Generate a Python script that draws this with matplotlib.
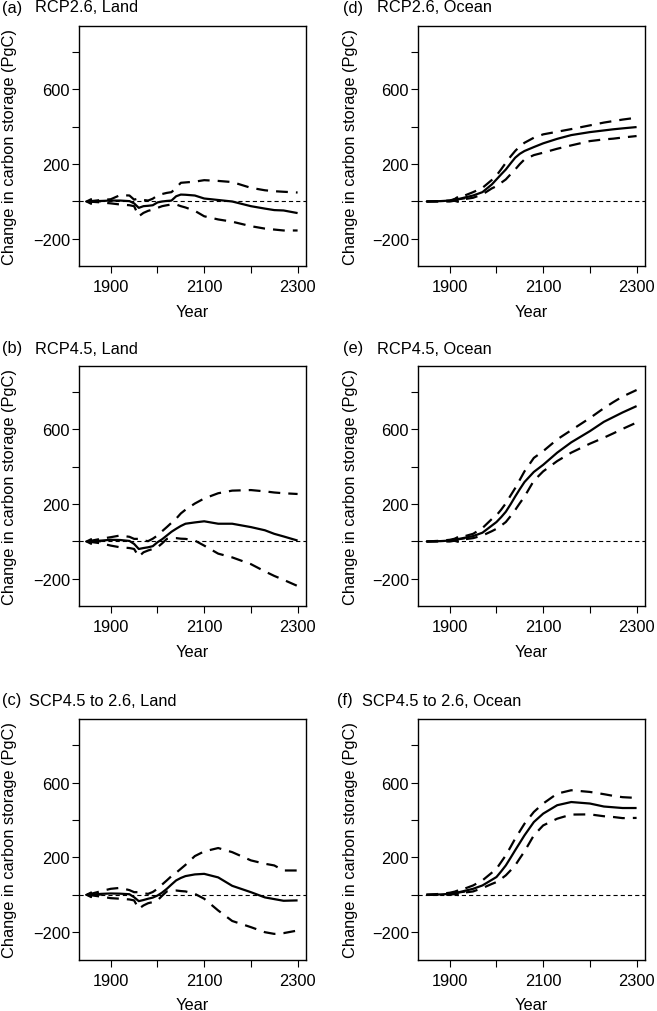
import matplotlib
matplotlib.use("Agg")
import matplotlib.pyplot as plt

plt.rcParams['font.family'] = ['Liberation Sans', 'DejaVu Sans']
plt.rcParams['lines.scale_dashes'] = False

# ---------------- data ----------------
land_years = [1850, 1880, 1900, 1920, 1940, 1950, 1960, 1970, 1980, 1990, 2000, 2010,
              2020, 2030, 2040, 2050, 2060, 2080, 2100, 2130, 2160, 2200, 2230, 2250, 2270, 2300]
ocean_years = [1850, 1880, 1900, 1920, 1950, 1970, 1990, 2000, 2010, 2020, 2030, 2040,
               2050, 2060, 2080, 2100, 2130, 2160, 2200, 2230, 2250, 2270, 2300]

a_mid = [0, 3, 5, 5, 2, -10, -34, -25, -23, -20, -5, 0, 3, 5, 28, 37, 36, 32, 16, 8, 0, -25, -38, -46, -48, -62]
a_up = [0, 8, 12, 34, 32, 10, 16, 8, 5, 15, 32, 40, 46, 50, 73, 100, 102, 106, 114, 110, 104, 73, 60, 55, 52, 48]
a_lo = [0, -5, -10, -16, -20, -25, -79, -61, -50, -43, -34, -25, -20, -16, -16, -25, -32, -50, -79, -96, -108, -132, -145, -150, -155, -155]

b_mid = [0, 5, 9, 8, 3, -13, -40, -35, -31, -25, -4, 12, 32, 52, 68, 83, 95, 102, 108, 95, 95, 77, 60, 41, 27, 5]
b_up = [0, 15, 23, 32, 25, 14, 14, 5, 2, 15, 32, 55, 77, 100, 122, 150, 170, 203, 230, 258, 272, 275, 268, 262, 258, 254]
b_lo = [0, -10, -22, -31, -35, -40, -81, -58, -48, -40, -31, -10, 14, 18, 18, 15, 14, 5, -22, -65, -85, -121, -160, -184, -205, -238]

c_mid = [0, 5, 7, 6, 3, -13, -34, -28, -21, -15, -4, 12, 32, 55, 77, 90, 100, 109, 112, 93, 48, 14, -14, -23, -32, -30]
c_up = [0, 20, 32, 37, 25, 14, 14, 8, 5, 15, 32, 55, 77, 100, 118, 139, 160, 207, 232, 250, 228, 184, 166, 157, 130, 130]
c_lo = [0, -10, -18, -21, -25, -30, -75, -57, -45, -39, -30, -5, 18, 22, 23, 20, 18, 5, -21, -84, -140, -173, -200, -209, -205, -191]

d_mid = [0, 2, 5, 14, 32, 50, 91, 118, 145, 171, 203, 234, 255, 270, 291, 311, 335, 355, 371, 380, 386, 391, 398]
d_up = [0, 2, 5, 20, 50, 73, 115, 139, 172, 207, 240, 270, 295, 314, 341, 359, 373, 387, 407, 422, 430, 438, 448]
d_lo = [0, 0, 0, 8, 20, 38, 70, 82, 100, 118, 145, 171, 200, 225, 248, 261, 282, 300, 323, 332, 336, 342, 350]

e_mid = [0, 2, 5, 14, 29, 47, 85, 104, 130, 159, 198, 240, 280, 318, 372, 410, 475, 530, 590, 640, 665, 690, 724]
e_up = [0, 4, 9, 20, 41, 72, 120, 140, 170, 204, 245, 285, 330, 375, 447, 483, 546, 595, 660, 713, 745, 775, 810]
e_lo = [0, 0, 0, 8, 18, 32, 55, 68, 85, 104, 135, 168, 205, 240, 325, 375, 430, 475, 523, 555, 578, 602, 636]

f_mid = [0, 2, 5, 14, 32, 50, 80, 95, 125, 157, 197, 238, 278, 318, 389, 434, 479, 496, 488, 472, 468, 464, 464]
f_up = [0, 5, 11, 22, 50, 77, 118, 139, 175, 211, 255, 300, 340, 380, 443, 488, 541, 559, 550, 538, 529, 522, 518]
f_lo = [0, 0, 0, 8, 18, 36, 58, 68, 85, 104, 130, 157, 195, 232, 318, 371, 407, 429, 430, 420, 416, 410, 411]

panel_letters = ['(a)', '(b)', '(c)', '(d)', '(e)', '(f)']
panel_titles = ['RCP2.6, Land', 'RCP4.5, Land', 'SCP4.5 to 2.6, Land',
                'RCP2.6, Ocean', 'RCP4.5, Ocean', 'SCP4.5 to 2.6, Ocean']
xticks = [1900, 2000, 2100, 2200, 2300]
xtick_labels = ['1900', '', '2100', '', '2300']
yticks = [-200, 0, 200, 400, 600, 800]
ytick_labels = ['\u2212200', '', '200', '', '600', '']
# arrow (tail year, tail value, head year, head value)
land_arrow = (1878, 0, 1843, 0)
ocean_arrow = (1932, 16, 1902, 5)

series = [
    (land_years, a_mid, a_up, a_lo),
    (land_years, b_mid, b_up, b_lo),
    (land_years, c_mid, c_up, c_lo),
    (ocean_years, d_mid, d_up, d_lo),
    (ocean_years, e_mid, e_up, e_lo),
    (ocean_years, f_mid, f_up, f_lo),
]

# ---------------- layout (pixels) ----------------
W, H = 657, 1012
fig = plt.figure(figsize=(W / 100, H / 100), dpi=100)

col_left = [79, 418]
row_top = [26.7, 366.7, 720]
ax_w, ax_h = 227, 240.5
letter_x = [[2, 2, 2], [343, 343, 337]]
title_x = [[35, 35, 29], [377, 377, 362]]
title_y = [8, 349, 701]

FS = 11.8
for i in range(6):
    col, row = divmod(i, 3)
    left = col_left[col]
    top = row_top[row]
    ax = fig.add_axes([left / W, 1 - (top + ax_h) / H, ax_w / W, ax_h / H])
    yrs, mid, up, lo = series[i]
    ax.axhline(0, color='black', lw=0.8, linestyle=(0, (3.0, 2.2)), zorder=1)
    ax.plot(yrs, up, color='black', lw=1.6, linestyle=(0, (8.5, 5.8)), zorder=2)
    ax.plot(yrs, lo, color='black', lw=1.6, linestyle=(0, (8.5, 5.8)), zorder=2)
    ax.plot(yrs, mid, color='black', lw=1.6, solid_capstyle='butt', zorder=3)
    arr = land_arrow if col == 0 else ocean_arrow
    ax.annotate('', xy=(arr[2], arr[3]), xytext=(arr[0], arr[1]),
                arrowprops=dict(arrowstyle='-|>', color='black', lw=1.3,
                                mutation_scale=9, shrinkA=0, shrinkB=0), zorder=4)
    ax.set_xlim(1832, 2318)
    ax.set_ylim(-346, 940)
    ax.set_xticks(xticks)
    ax.set_xticklabels(xtick_labels)
    ax.set_yticks(yticks)
    ax.set_yticklabels(ytick_labels)
    ax.tick_params(axis='x', direction='out', length=5, width=0.8, pad=4.5, labelsize=11.8)
    ax.tick_params(axis='y', direction='out', length=5, width=0.8, pad=1.5, labelsize=11.8)
    for s in ax.spines.values():
        s.set_linewidth(1.0)
    ax.set_xlabel('Year', fontsize=FS, va='center')
    ax.xaxis.set_label_coords(0.5, -45 / ax_h)
    ax.set_ylabel('Change in carbon storage (PgC)', fontsize=FS, va='center')
    ax.yaxis.set_label_coords((10 - 79) / ax_w if col == 0 else (350 - 418) / ax_w, 0.5)

    fig.text(letter_x[col][row] / W, 1 - title_y[row] / H, panel_letters[i],
             fontsize=FS, ha='left', va='center')
    fig.text(title_x[col][row] / W, 1 - title_y[row] / H, panel_titles[i],
             fontsize=FS, ha='left', va='center')

fig.savefig('out.png', dpi=100)
